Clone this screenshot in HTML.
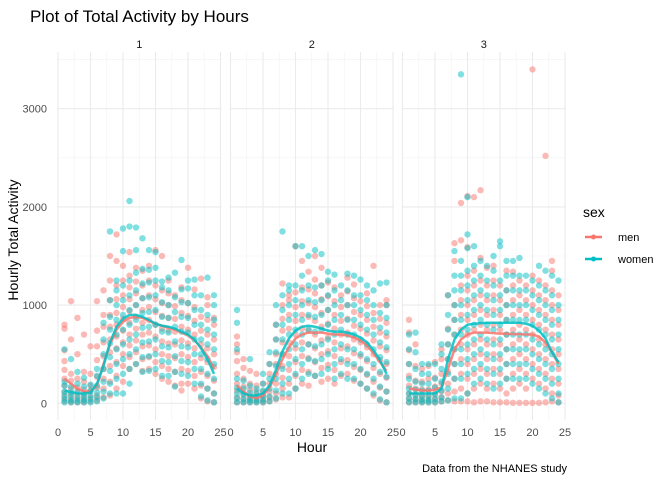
<!DOCTYPE html>
<html><head><meta charset="utf-8"><style>
body{margin:0;background:#fff;}
svg text{font-family:"Liberation Sans",Arial,sans-serif;}
</style></head><body>
<svg id="chart" width="672" height="480" xmlns="http://www.w3.org/2000/svg">
<rect width="672" height="480" fill="#fff"/>
<text x="30" y="22" font-size="17" fill="#000">Plot of Total Activity by Hours</text>
<g id="panels"></g>
<text transform="translate(18,240) rotate(-90)" text-anchor="middle" font-size="14" fill="#000">Hourly Total Activity</text>
<text x="312" y="452" text-anchor="middle" font-size="14" fill="#000">Hour</text>
<text x="567" y="472" text-anchor="end" font-size="11" fill="#000">Data from the NHANES study</text>
<g>
<text x="583" y="217" font-size="14" fill="#000">sex</text>
<g>
<line x1="585" y1="237" x2="602" y2="237" stroke="#F8766D" stroke-width="2.5"/>
<circle cx="593.5" cy="237" r="2.5" fill="#F8766D"/>
<text x="618" y="241" font-size="11">men</text></g>
<g>
<line x1="585" y1="259" x2="602" y2="259" stroke="#00BFC4" stroke-width="2.5"/>
<circle cx="593.5" cy="259" r="2.5" fill="#00BFC4"/>
<text x="618" y="263" font-size="11">women</text></g>
</g>
</svg>
<script>
const panelLabels=["1","2","3"];
const yTicks=[0,1000,2000,3000];
const xTicks=[0,5,10,15,20,25];
const men1=[[20,60,110,180,250,340,430,540,760,800],[10,40,90,150,230,300,650,1040],[10,50,100,160,250,500,870],[10,40,80,140,220,320,700],[20,60,120,180,300,580],[30,80,160,270,440,580,740,1040],[60,150,250,350,480,620,780,900,1150],[80,220,380,520,650,780,900,1050,1250,1500],[150,280,420,560,680,800,920,1060,1200,1450,1720],[220,380,500,620,740,860,980,1100,1250,1400],[350,470,590,700,820,940,1060,1180,1300,1540],[400,520,640,760,880,1000,1120,1240,1380],[330,450,580,700,820,950,1070,1200,1350],[350,470,590,720,850,980,1100,1250,1400],[300,420,550,680,800,930,1060,1200,1560],[250,380,500,630,760,890,1020,1150,1500],[220,350,480,610,740,870,1000,1120,1250],[180,320,460,600,730,860,990,1100],[130,200,350,500,640,780,920,1050,1180],[200,330,470,610,750,890,1020,1380],[150,280,420,560,700,840,980,1160],[50,180,320,460,600,740,880,1270],[20,150,280,420,560,700,850,1000,1080],[10,100,230,370,500,650,800,870]];
const women1=[[10,40,80,120,180,220,550],[10,30,70,110,170,450],[10,30,70,120,200,320],[10,30,60,100,170,260],[10,40,80,130,190],[20,60,110,180,280,350],[50,120,220,350,500,650,820],[100,200,330,470,610,750,880,1050,1750],[100,250,400,550,700,850,1000,1150,1250],[100,300,450,600,750,900,1050,1200,1550,1780],[200,350,500,650,800,950,1100,1250,1800,2060],[400,550,700,850,1000,1150,1330,1560,1790],[320,470,620,770,920,1070,1220,1370,1680],[330,480,630,780,930,1080,1230,1360,1560],[350,500,650,800,950,1100,1250,1380,1540],[280,430,580,730,880,1030,1180,1240],[280,420,570,720,870,1000,1150,1280],[170,320,480,630,780,930,1080,1330],[300,430,580,730,880,1030,1160,1460],[280,420,570,720,870,1020,1170,1250],[200,350,500,650,800,950,1100,1260],[70,200,350,500,650,800,950,1100],[30,150,300,450,600,750,900,1280],[10,100,250,400,550,700,850,1000,1100]];
const men2=[[10,60,130,200,300,430,520,600,680],[10,50,100,170,250,360,450],[10,40,80,140,200,330],[10,30,70,120,180,300],[10,30,70,120,200],[20,60,120,200,300,400],[40,100,200,300,400,500,650,800],[60,150,260,380,500,620,740,860,1000,1220],[60,200,340,480,620,760,900,1050,1100],[150,280,420,560,700,840,980,1130,1600],[200,340,480,620,760,900,1040,1180,1450],[180,320,460,600,740,880,1020,1160,1340],[280,420,560,700,840,980,1120,1260,1500],[220,360,500,640,780,920,1060,1200,1380],[250,390,530,670,810,950,1090,1230],[200,340,480,620,760,900,1040,1180],[280,420,560,700,840,980,1100],[300,440,580,720,860,1000,1140,1280],[230,370,510,650,790,930,1070,1210],[200,340,480,620,760,900,1040],[150,290,430,570,710,850,990,1120],[80,220,360,500,640,780,920,1400],[30,160,300,440,580,720,860,1000],[10,120,260,400,540,680,820,1000,1050]];
const women2=[[10,50,100,160,250,550,820,950],[10,40,90,150,230],[10,30,60,110,180,450],[10,30,60,100,150],[10,40,80,130,200,300],[20,70,150,250,400,520],[50,130,250,380,520,650,800,1000],[100,200,350,500,650,800,950,1100,1750],[100,250,400,550,700,850,1000,1150,1200],[150,300,450,600,750,900,1050,1200,1600],[250,400,550,700,850,1000,1150,1300,1600],[300,450,600,750,900,1050,1200,1500],[280,430,580,730,880,1030,1180,1560],[300,450,600,750,900,1050,1200,1520],[350,500,650,800,950,1100,1250,1340],[250,400,550,700,850,1000,1150,1310],[300,450,600,750,900,1050,1200],[250,400,550,700,850,1000,1150,1320],[250,400,550,700,850,1000,1100,1300],[200,350,500,650,800,950,1100,1260],[150,300,450,600,750,900,1050,1200],[100,250,400,550,700,850,1000,1150],[40,170,320,470,620,770,920,1220],[10,120,270,420,570,720,870,1000,1230]];
const men3=[[10,50,100,180,280,400,540,720,850],[10,40,90,150,230,380,600],[10,40,80,140,220,350],[10,40,80,140,250,380],[10,50,100,170,260,420],[20,60,120,200,300,450,550],[30,100,200,320,450,600,760,1100],[20,120,250,400,550,700,850,1000,1450,1630],[20,150,300,450,600,750,900,1050,1200,1660,2040],[20,100,250,400,550,700,850,1000,1150,1300,1590,2110],[10,150,300,450,600,750,900,1050,1200,1350,2100],[20,200,350,500,650,800,950,1100,1250,1480,2170],[20,150,300,450,600,750,900,1050,1200,1380],[10,200,350,500,650,800,950,1100,1250,1400],[10,150,300,450,600,750,900,1050,1200],[10,100,250,400,550,700,850,1000,1150,1350],[5,150,300,450,600,750,900,1050,1200,1340],[5,200,350,500,650,800,950,1100,1250],[5,150,300,450,600,750,900,1050,1200],[5,250,400,550,700,850,1000,1150,1300,3400],[5,200,350,500,650,800,950,1100,1250],[10,150,300,450,600,750,900,1050,1200,2520],[20,100,250,400,550,700,850,1000,1150,1350,1450],[10,80,200,350,500,650,800,950,1100]];
const women3=[[10,50,100,150,250,400,550,700],[10,40,80,140,220,350,520,720],[10,30,70,130,200,300,400],[10,30,70,130,200,300,400],[10,40,90,160,250,400],[20,60,130,220,350,500,600],[30,150,300,450,600,750,900,1100],[50,250,400,550,700,850,1000,1150,1300,1550],[50,250,400,550,700,850,1000,1150,1300,1450,3350],[100,300,450,600,750,900,1050,1200,1350,1580,1720,2100],[200,350,500,650,800,950,1100,1250,1400,1600],[250,400,550,700,850,1000,1150,1300,1450],[200,350,500,650,800,950,1100,1250,1400],[150,300,450,600,750,900,1050,1200,1350,1500],[200,350,500,650,800,950,1100,1250,1600,1650],[250,400,550,700,850,1000,1150,1300,1450],[250,400,550,700,850,1000,1150,1300,1450],[250,400,550,700,850,1000,1150,1300,1480],[250,400,550,700,850,1000,1150,1300],[200,350,500,650,800,950,1100,1250],[150,300,450,600,750,900,1050,1200,1400],[100,250,400,550,700,850,1000,1150,1350],[50,200,350,500,650,800,950,1100,1300],[10,100,250,400,550,700,850,1000,1250]];
const smoothMen1=[250,200,150,120,120,180,400,600,750,830,870,880,870,840,810,790,770,750,720,690,640,570,480,350];
const smoothWomen1=[130,115,100,100,110,200,380,620,780,860,900,900,880,850,810,790,780,760,730,700,650,560,450,300];
const smoothMen2=[180,120,70,50,80,160,300,450,570,660,700,720,720,720,710,700,700,690,670,640,590,510,420,330];
const smoothWomen2=[150,100,80,80,100,180,340,530,660,740,780,790,780,760,740,730,730,720,700,670,620,540,440,300];
const smoothMen3=[150,140,130,130,140,160,350,550,650,700,720,720,720,715,710,710,705,705,700,700,680,620,520,400];
const smoothWomen3=[100,100,100,100,100,150,450,650,750,800,810,815,820,820,820,820,820,820,810,790,740,660,520,420];
const menData=[men1,men2,men3], womenData=[women1,women2,women3];
const smoothMen=[smoothMen1,smoothMen2,smoothMen3], smoothWomen=[smoothWomen1,smoothWomen2,smoothWomen3];

const NS="http://www.w3.org/2000/svg";
const x0s=[58,230.5,402.5];
const pxPerHour=6.5, panelTop=52, panelBottom=420;
function xs(p,h){return x0s[p]+h*pxPerHour;}
function ys(v){return 403.3-v*0.0982;}
function mk(tag,attrs,parent){const e=document.createElementNS(NS,tag);for(const k in attrs)e.setAttribute(k,attrs[k]);parent.appendChild(e);return e;}
const root=document.getElementById('panels');
for(let p=0;p<3;p++){
  const g=mk('g',{},root);
  
  
  const L=xs(p,-0.15), R=xs(p,25.15);
  for(let v=500;v<=3500;v+=1000){const l=mk('line',{x1:L,x2:R,y1:ys(v),y2:ys(v),stroke:'#f2f2f2','stroke-width':0.6},g);
    
    }
  for(let h=2.5;h<25;h+=5){const l=mk('line',{x1:xs(p,h),x2:xs(p,h),y1:panelTop,y2:panelBottom,stroke:'#f2f2f2','stroke-width':0.6},g);
    
    }
  for(const v of yTicks){const l=mk('line',{x1:L,x2:R,y1:ys(v),y2:ys(v),stroke:'#ebebeb','stroke-width':1.1},g);
    
    }
  for(const h of xTicks){const l=mk('line',{x1:xs(p,h),x2:xs(p,h),y1:panelTop,y2:panelBottom,stroke:'#ebebeb','stroke-width':1.1},g);
    
    
    const t=mk('text',{x:xs(p,h),y:436,'text-anchor':'middle','font-size':11,fill:'#4d4d4d'},g);t.textContent=String(h);
    
    }
  const st=mk('text',{x:(L+R)/2,y:48,'text-anchor':'middle','font-size':11,fill:'#1a1a1a'},g);st.textContent=panelLabels[p];
  
  
  for(let i=0;i<24;i++){
    const h=i+1;
    for(const v of menData[p][i]){const c=mk('circle',{cx:xs(p,h),cy:ys(v),r:3.2,fill:'#F8766D','fill-opacity':0.5},g);
      
      }
    for(const v of womenData[p][i]){const c=mk('circle',{cx:xs(p,h),cy:ys(v),r:3.2,fill:'#00BFC4','fill-opacity':0.5},g);
      
      }
  }
  const ptsM=smoothMen[p].map((v,i)=>xs(p,i+1)+','+ys(v)).join(' ');
  const lm=mk('polyline',{points:ptsM,fill:'none',stroke:'#F8766D','stroke-width':2.5,'stroke-opacity':0.85,'stroke-linejoin':'round'},g);
  
  
  const ptsW=smoothWomen[p].map((v,i)=>xs(p,i+1)+','+ys(v)).join(' ');
  const lw=mk('polyline',{points:ptsW,fill:'none',stroke:'#00BFC4','stroke-width':2.5,'stroke-opacity':0.85,'stroke-linejoin':'round'},g);
  
  
}
for(const v of yTicks){const t=mk('text',{x:47,y:ys(v)+4,'text-anchor':'end','font-size':11,fill:'#4d4d4d'},root);t.textContent=String(v);
  
  }
</script>
</body></html>
